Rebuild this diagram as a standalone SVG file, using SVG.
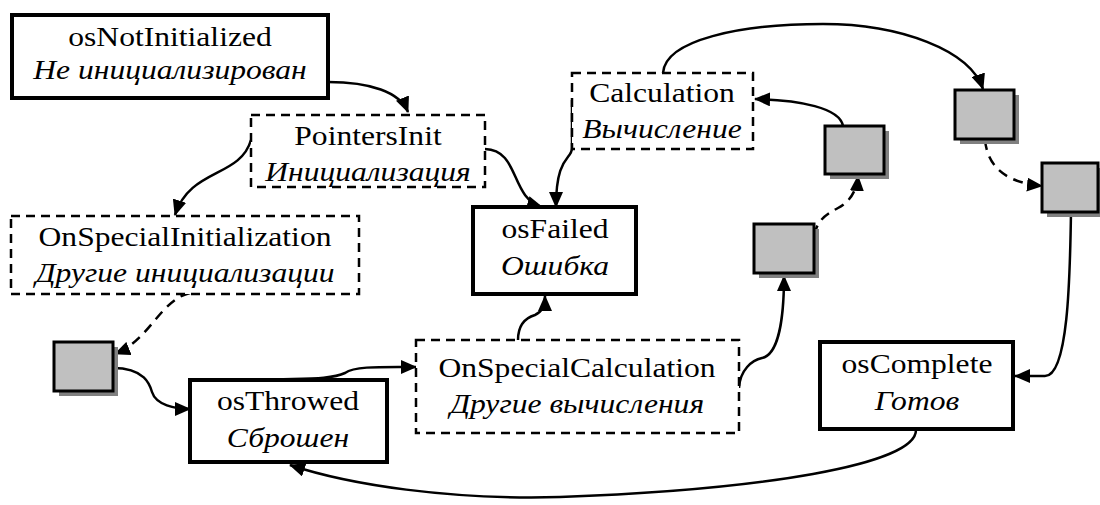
<svg xmlns="http://www.w3.org/2000/svg" width="1100" height="505" viewBox="0 0 1100 505">
<style>
.solid{fill:#fff;stroke:#000;stroke-width:4}
.dash{fill:#fff;stroke:#000;stroke-width:2.5;stroke-dasharray:9 6}
.sq{fill:#c0c0c0;stroke:#000;stroke-width:3}
.sh{fill:#808080}
text{font-family:"Liberation Serif","Times New Roman",serif;font-size:27px;text-anchor:middle;fill:#000}
.it{font-style:italic}
.c{fill:none;stroke:#000;stroke-width:2.5}
.cd{fill:none;stroke:#000;stroke-width:2.5;stroke-dasharray:10 7}
</style>
<defs>
<marker id="ah" markerUnits="userSpaceOnUse" markerWidth="16" markerHeight="14" refX="15" refY="7" orient="auto">
<path d="M0,0 L16,7 L0,14 z" fill="#000"/>
</marker>
</defs>
<rect width="1100" height="505" fill="#fff"/>
<g id="connectors">
<path class="c" d="M328 82 C370 82 400 92 408 112" marker-end="url(#ah)"/>
<path class="c" d="M251 140 C240 178 190 168 175 215" marker-end="url(#ah)"/>
<path class="c" d="M485 149 C520 150 510 198 542 207" marker-end="url(#ah)"/>
<path class="c" d="M572 100 L572 148 C572 160 556 155 556 207" marker-end="url(#ah)"/>
<path class="cd" d="M190 293 C160 300 150 340 115 354" marker-end="url(#ah)"/>
<path class="c" d="M113 368 C145 368 150 385 152 392 C156 405 175 409 190 409" marker-end="url(#ah)"/>
<path class="c" d="M262 380 C300 378 330 380 345 373 C355 366 380 367 416 367" marker-end="url(#ah)"/>
<path class="c" d="M518 340 C518 325 525 318 535 315 C542 312 545 305 545 296" marker-end="url(#ah)"/>
<path class="c" d="M739 388 C740 370 752 360 762 358 C778 355 784 320 784 276" marker-end="url(#ah)"/>
<path class="cd" d="M814 235 C818 220 825 215 838 208 C850 202 857 190 858 176" marker-end="url(#ah)"/>
<path class="c" d="M843 126 C840 108 800 100 755 99" marker-end="url(#ah)"/>
<path class="c" d="M663 73 C665 40 740 24 823 24 C900 24 970 50 983 89" marker-end="url(#ah)"/>
<path class="cd" d="M985 140 C988 170 1010 183 1042 186" marker-end="url(#ah)"/>
<path class="c" d="M1071 212 C1070 280 1068 376 1045 376 L1015 376" marker-end="url(#ah)"/>
<path class="c" d="M916 430 C916 465 760 490 560 497 C450 500 350 485 290 465" marker-end="url(#ah)"/>
</g>
<g id="osNotInitialized">
<rect class="solid" x="12" y="15" width="316" height="83"/>
<text transform="translate(170 46) scale(1.17 1)">osNotInitialized</text>
<text class="it" transform="translate(170 79) scale(1.17 1)">Не инициализирован</text>
</g>
<g id="PointersInit">
<rect class="dash" x="251" y="115" width="234" height="72"/>
<text transform="translate(368 145) scale(1.17 1)">PointersInit</text>
<text class="it" transform="translate(368 181) scale(1.17 1)">Инициализация</text>
</g>
<g id="OnSpecialInitialization">
<rect class="dash" x="11" y="216" width="348" height="78"/>
<text transform="translate(185 246) scale(1.17 1)">OnSpecialInitialization</text>
<text class="it" transform="translate(185 282) scale(1.17 1)">Другие инициализации</text>
</g>
<g id="osFailed">
<rect class="solid" x="473" y="207" width="163" height="87"/>
<text transform="translate(555 238) scale(1.17 1)">osFailed</text>
<text class="it" transform="translate(555 275) scale(1.17 1)">Ошибка</text>
</g>
<g id="Calculation">
<rect class="dash" x="572" y="73" width="181" height="76"/>
<text transform="translate(662 102) scale(1.17 1)">Calculation</text>
<text class="it" transform="translate(662 138) scale(1.17 1)">Вычисление</text>
</g>
<g id="osThrowed">
<rect class="solid" x="190" y="380" width="197" height="82"/>
<text transform="translate(288 410) scale(1.17 1)">osThrowed</text>
<text class="it" transform="translate(288 447) scale(1.17 1)">Сброшен</text>
</g>
<g id="OnSpecialCalculation">
<rect class="dash" x="416" y="340" width="323" height="93"/>
<text transform="translate(577 377) scale(1.17 1)">OnSpecialCalculation</text>
<text class="it" transform="translate(577 413) scale(1.17 1)">Другие вычисления</text>
</g>
<g id="osComplete">
<rect class="solid" x="820" y="342" width="193" height="87"/>
<text transform="translate(917 373) scale(1.17 1)">osComplete</text>
<text class="it" transform="translate(917 410) scale(1.17 1)">Готов</text>
</g>
<g id="sq1">
<rect class="sh" x="59" y="347" width="59" height="49"/>
<rect class="sq" x="54" y="342" width="59" height="49"/>
</g>
<g id="sq2">
<rect class="sh" x="759" y="229" width="60" height="49"/>
<rect class="sq" x="754" y="224" width="60" height="49"/>
</g>
<g id="sq3">
<rect class="sh" x="830" y="131" width="59" height="48"/>
<rect class="sq" x="825" y="126" width="59" height="48"/>
</g>
<g id="sq4">
<rect class="sh" x="960" y="95" width="59" height="49"/>
<rect class="sq" x="955" y="90" width="59" height="49"/>
</g>
<g id="sq5">
<rect class="sh" x="1047" y="168" width="53" height="49"/>
<rect class="sq" x="1042" y="163" width="56" height="49"/>
</g>
</svg>
